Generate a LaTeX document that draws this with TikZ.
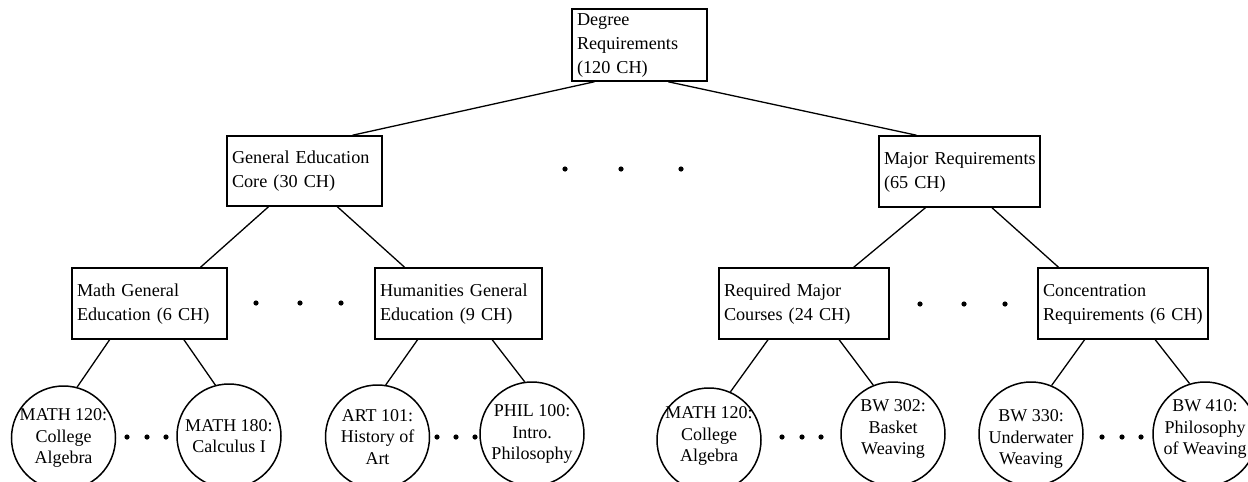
\documentclass[tikz,border=0pt]{standalone}
\usepackage{fontspec}
\setmainfont{Liberation Serif}
\usetikzlibrary{calc}

% lines of a box label, kept unbroken and flush left
\newcommand{\boxlines}[1]{\begin{tabular}{@{}l@{}}#1\end{tabular}}

\tikzset{
  reqbox/.style={draw, rectangle, line width=1.5pt, inner xsep=5pt, inner ysep=0pt,
    align=left, font=\fontsize{18.2}{24}\selectfont},
  course/.style={draw, circle, line width=1.5pt, minimum size=104pt, inner sep=0pt},
  ctext/.style={align=center, inner sep=0pt, font=\fontsize{18}{21.5}\selectfont},
  link/.style={line width=1.3pt},
}

\begin{document}
\begin{tikzpicture}[x=1pt, y=-1pt]
  \useasboundingbox (0,0) rectangle (1248,482);
  \clip (0,0) rectangle (1248,482);

  % requirement boxes
  \node[reqbox, text width=125pt, minimum height=70pt] (deg) at (639.5,45) {\boxlines{Degree\\Requirements\\(120 CH)}};
  \node[reqbox, text width=145pt, minimum height=70pt] (gen) at (304.5,171) {\boxlines{General Education\\Core (30 CH)}};
  \node[reqbox, text width=151pt, minimum height=71pt] (maj) at (959.5,171.5) {\boxlines{Major Requirements\\(65 CH)}};
  \node[reqbox, text width=145pt, minimum height=71pt] (math) at (149.5,303.5) {\boxlines{Math General\\Education (6 CH)}};
  \node[reqbox, text width=157pt, minimum height=71pt] (hum) at (458.5,303.5) {\boxlines{Humanities General\\Education (9 CH)}};
  \node[reqbox, text width=160pt, minimum height=71pt] (req) at (804,303.5) {\boxlines{Required Major\\Courses (24 CH)}};
  \node[reqbox, text width=160pt, minimum height=71pt] (con) at (1123,303.5) {\boxlines{Concentration\\Requirements (6 CH)}};

  % courses
  \node[course, label={[ctext]center:{MATH 120:\\College\\Algebra}}] (c1) at (63.5,438) {};
  \node[course, label={[ctext]center:{MATH 180:\\Calculus I}}] (c2) at (229,436) {};
  \node[course, label={[ctext]center:{ART 101:\\History of\\Art}}] (c3) at (377.5,437) {};
  \node[course, label={[ctext]center:{PHIL 100:\\Intro.\\Philosophy}}] (c4) at (532,434) {};
  \node[course, label={[ctext, yshift=4pt]center:{MATH 120:\\College\\Algebra}}] (c5) at (709,440) {};
  \node[course, label={[ctext, yshift=5pt]center:{BW 302:\\Basket\\Weaving}}] (c6) at (893,434) {};
  \node[course, label={[ctext, yshift=-5pt]center:{BW 330:\\Underwater\\Weaving}}] (c7) at (1031,434) {};
  \node[course, label={[ctext, yshift=5pt]center:{BW 410:\\Philosophy\\of Weaving}}] (c8) at (1205,434) {};

  % tree links
  \draw[link] ($(deg.south west)!0.17!(deg.south east)$) -- ($(gen.north west)!0.806!(gen.north east)$);
  \draw[link] ($(deg.south west)!0.71!(deg.south east)$) -- ($(maj.north west)!0.236!(maj.north east)$);
  \draw[link] ($(gen.south west)!0.27!(gen.south east)$) -- ($(math.north west)!0.826!(math.north east)$);
  \draw[link] ($(gen.south west)!0.71!(gen.south east)$) -- ($(hum.north west)!0.18!(hum.north east)$);
  \draw[link] ($(maj.south west)!0.29!(maj.south east)$) -- ($(req.north west)!0.79!(req.north east)$);
  \draw[link] ($(maj.south west)!0.70!(maj.south east)$) -- ($(con.north west)!0.124!(con.north east)$);
  \draw[link] ($(math.south west)!0.245!(math.south east)$) -- (c1.75);
  \draw[link] ($(math.south west)!0.72!(math.south east)$) -- (c2.105);
  \draw[link] ($(hum.south west)!0.257!(hum.south east)$) -- (c3.81);
  \draw[link] ($(hum.south west)!0.70!(hum.south east)$) -- (c4.98);
  \draw[link] ($(req.south west)!0.29!(req.south east)$) -- (c5.66);
  \draw[link] ($(req.south west)!0.705!(req.south east)$) -- (c6.112);
  \draw[link] ($(con.south west)!0.276!(con.south east)$) -- (c7.67);
  \draw[link] ($(con.south west)!0.688!(con.south east)$) -- (c8.107);

  % ellipsis dots
  \foreach \x/\y in {565/169, 621/169, 681/169,
                     256/303, 300/303, 341/303,
                     920/304, 964/304, 1005/304,
                     127/437, 147/437, 166/437,
                     437/437, 456/437, 475/437,
                     782/437, 802/437, 821/437,
                     1102/437, 1122/437, 1141/437}
    \fill (\x,\y) circle (2.6pt);
\end{tikzpicture}
\end{document}
